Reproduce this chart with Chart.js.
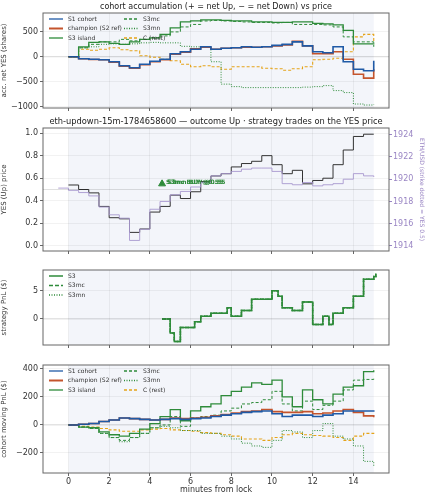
<!DOCTYPE html>
<html><head><meta charset="utf-8">
<script src="https://cdn.jsdelivr.net/npm/chart.js@4"></script>
<style>
body{margin:0;background:#fff;width:425px;height:500px;position:relative;overflow:hidden}
canvas{position:absolute;left:0;top:0}
</style></head><body>
<canvas id="c1" width="425" height="500"></canvas>
<canvas id="c2" width="425" height="500"></canvas>
<canvas id="c3" width="425" height="500"></canvas>
<canvas id="c4" width="425" height="500"></canvas>
<script>
// shared time grid (minutes from lock)
const T = [0,0.5,1,1.5,2,2.5,3,3.5,4,4.5,5,5.5,6,6.5,7,7.5,8,8.5,9,9.5,10,10.5,11,11.5,12,12.5,13,13.5,14,14.5,15];

// panel 1: accumulated net YES shares
const accS1 = [0,-40,-50,-60,-100,-180,-220,-150,-90,-50,60,100,150,200,150,170,180,200,190,200,230,250,300,220,100,80,200,-100,-250,-280,-80];
const accChamp = [0,-40,-55,-60,-110,-190,-230,-160,-100,-60,50,90,160,190,150,170,180,190,190,200,220,240,310,220,60,60,100,-50,-350,-430,-250];
const accS3 = [0,200,290,300,270,250,300,350,380,450,580,700,720,740,740,730,720,720,700,700,690,690,700,700,670,660,640,530,260,260,270];
const accS3mc = [0,180,250,300,300,350,320,350,380,420,500,600,650,720,730,720,710,700,690,690,680,690,650,650,650,640,600,400,300,300,200];
const accS3mn = [0,180,200,250,260,250,260,280,290,280,280,210,200,190,-100,-550,-600,-620,-620,-620,-620,-620,-620,-610,-600,-580,-680,-720,-950,-970,-960];
const accC = [0,150,130,150,180,140,120,20,-10,-50,-80,-150,-200,-180,-200,-250,-200,-200,-200,-230,-240,-270,-240,-200,-60,-50,-30,100,400,450,280];

// panel 2: YES price and ETH/USD
const yesPrice = [0.54,0.5,0.47,0.35,0.25,0.24,0.12,0.15,0.3,0.35,0.45,0.42,0.48,0.57,0.62,0.64,0.7,0.73,0.75,0.8,0.72,0.64,0.67,0.55,0.58,0.6,0.72,0.85,0.97,0.99,0.99];
const ethT = [-0.5,0,0.5,1,1.5,2,2.5,3,3.5,4,4.5,5,5.5,6,6.5,7,7.5,8,8.5,9,9.5,10,10.5,11,11.5,12,12.5,13,13.5,14,14.5,15];
const ethPrice = [1919.2,1919,1918.8,1918.5,1917.5,1916.8,1916.5,1914.5,1915.5,1917.3,1918,1918.6,1918.9,1919.3,1919.7,1920.3,1920.5,1920.7,1920.9,1921,1921,1920.7,1919.6,1919.5,1919.7,1919.4,1919.5,1919.6,1920,1920.5,1920.3,1920.2];
const tradeT = [4.6];
const tradeP = [0.55];
const tradeLabels = ["S3mc BUY @0.55","S3mn BUY @0.55"];

// panel 3: strategy PnL
const pnlT = [4.6,5,5.2,5.5,6,6.2,6.5,7,7.5,7.8,8,8.5,9,9.5,10,10.3,10.5,11,11.5,12,12.5,12.8,13,13.5,14,14.5,15,15.1];
const pnlS3 = [0,-2.5,-4,-1.5,-1.5,-0.5,0.5,1,1,2,0.5,1.5,3.5,3.5,5,4,2,1.5,3,-1,0.5,-1,1,2,4,7,7.5,8];

// panel 4: cohort moving PnL
const mpS1 = [0,5,10,25,35,50,45,40,35,40,45,40,45,50,60,70,80,90,95,100,80,60,70,70,60,70,80,100,100,100,95];
const mpChamp = [0,5,10,25,35,50,45,40,35,40,50,45,50,55,65,75,85,95,100,110,95,90,90,95,80,85,100,110,90,65,55];
const mpS3 = [0,-15,-20,-50,-70,-80,-60,-30,10,60,110,30,100,130,150,210,240,270,300,290,320,200,130,250,180,150,220,270,280,380,390];
const mpS3mc = [0,-15,-25,-60,-90,-110,-90,-60,-20,0,60,-10,50,60,70,100,120,150,160,180,240,150,100,170,110,140,170,250,320,325,330];
const mpS3mn = [0,-15,-25,-60,-90,-120,-90,-60,-20,-10,-20,-40,-40,-60,-60,-80,-100,-130,-150,-160,-110,-40,-50,-90,-40,10,-80,-100,-150,-260,-300];
const mpC = [0,-10,-15,-25,-35,-45,-45,-35,-30,-25,-35,-40,-45,-55,-60,-70,-80,-100,-100,-110,-90,-70,-60,-70,-75,-80,-90,-110,-80,-60,-55];

const xTicks = [0,2,4,6,8,10,12,14];

const BLUE = "#1f5aa6", RED = "#c4542c", GREEN = "#2e8b3a", ORANGE = "#e5a41a", GRAY = "#333";
const FONT = "DejaVu Sans";
Chart.defaults.font.family = FONT;
Chart.defaults.font.size = 8;
Chart.defaults.color = "#333";
Chart.defaults.animation = false;

function pts(xs, ys) { return xs.map((x, i) => ({ x: x, y: ys[i] })); }

function line(label, ys, color, dash, width, xs) {
  return { label: label, data: pts(xs || T, ys), borderColor: color, borderDash: dash || [],
    borderWidth: width || 1.3, pointRadius: 0, stepped: true, fill: false };
}

// shaded band, frame, title, legend
const panelDeco = {
  id: "panelDeco",
  beforeDraw(chart, args, o) {
    const ctx = chart.ctx, a = chart.chartArea, x = chart.scales.x;
    ctx.save();
    ctx.fillStyle = "#f3f5fa";
    ctx.fillRect(x.getPixelForValue(0), a.top, x.getPixelForValue(15) - x.getPixelForValue(0), a.bottom - a.top);
    ctx.restore();
  },
  afterDraw(chart, args, o) {
    const ctx = chart.ctx, a = chart.chartArea;
    ctx.save();
    ctx.strokeStyle = "#666"; ctx.lineWidth = 1;
    ctx.strokeRect(a.left, a.top, a.right - a.left, a.bottom - a.top);
    if (o.zero != null) {
      const y = chart.scales.y.getPixelForValue(o.zero);
      ctx.strokeStyle = "rgba(0,0,0,0.12)"; ctx.beginPath(); ctx.moveTo(a.left, y); ctx.lineTo(a.right, y); ctx.stroke();
    }
    if (o.title) {
      ctx.fillStyle = "#222"; ctx.font = (o.titleSize || 8) + "px " + FONT; ctx.textAlign = "center"; ctx.textBaseline = "bottom";
      ctx.fillText(o.title, (a.left + a.right) / 2, a.top - 2);
    }
    (o.legend || []).forEach((it, i) => {
      const col = Math.floor(i / o.rows), row = i % o.rows;
      const lx = a.left + 6 + col * 75, ly = a.top + 6 + row * 9.5;
      ctx.strokeStyle = it.color; ctx.lineWidth = it.w || 1.3; ctx.setLineDash(it.dash || []);
      ctx.beginPath(); ctx.moveTo(lx, ly); ctx.lineTo(lx + 14, ly); ctx.stroke();
      ctx.setLineDash([]);
      ctx.fillStyle = "#333"; ctx.font = "6px " + FONT; ctx.textAlign = "left"; ctx.textBaseline = "middle";
      ctx.fillText(it.label, lx + 19, ly);
    });
    if (o.tradeLabels) {
      const ds = chart.getDatasetMeta(o.tradeIndex).data[0];
      ctx.fillStyle = GREEN; ctx.font = "bold 6px " + FONT; ctx.textAlign = "left"; ctx.textBaseline = "middle";
      o.tradeLabels.forEach((t, i) => ctx.fillText(t, ds.x + 4 + i * 1.5, ds.y - 1));
    }
    ctx.restore();
  }
};

function xScale(showLabels) {
  return { type: "linear", min: -1.25, max: 15.75,
    afterBuildTicks: s => { s.ticks = xTicks.map(v => ({ value: v })); },
    afterFit: s => { s.height = showLabels ? 22 : 4; },
    grid: { color: "rgba(0,0,0,0.05)", tickLength: 3, tickColor: "#666" },
    border: { display: false },
    ticks: { display: showLabels, font: { size: 8 }, padding: 1 },
    title: { display: showLabels, text: "minutes from lock", font: { size: 8 }, padding: 0 } };
}
function yScale(min, max, ticks, title, extra) {
  return Object.assign({ position: "left", min: min, max: max,
    afterBuildTicks: s => { s.ticks = ticks.map(v => ({ value: v })); },
    afterFit: s => { s.width = 43; },
    grid: { color: "rgba(0,0,0,0.05)", tickLength: 3, tickColor: "#666" },
    border: { display: false },
    ticks: { font: { size: 8 }, padding: 2, callback: v => String(v).replace("-", "\u2212") },
    title: { display: true, text: title, font: { size: 7 }, padding: 0 } }, extra || {});
}

function panel(id, datasets, scales, plotTop, plotBottom, xLabels, deco, rightPad) {
  return new Chart(document.getElementById(id), {
    type: "line",
    data: { datasets: datasets },
    options: { responsive: false, parsing: true,
      layout: { padding: { top: plotTop, left: 0, right: rightPad, bottom: 500 - plotBottom - (xLabels ? 22 : 4) } },
      scales: scales,
      plugins: { legend: { display: false }, tooltip: { enabled: false }, panelDeco: deco } },
    plugins: [panelDeco]
  });
}

const legend6 = [
  { label: "S1 cohort", color: BLUE },
  { label: "champion (S2 ref)", color: RED, w: 2 },
  { label: "S3 island", color: GREEN },
  { label: "S3mc", color: GREEN, dash: [3, 2] },
  { label: "S3mn", color: GREEN, dash: [1, 1.5] },
  { label: "C (rest)", color: ORANGE, dash: [3, 2] }
];

panel("c1", [
  line("S1 cohort", accS1, BLUE, null, 1.6),
  line("champion (S2 ref)", accChamp, RED, null, 1.6),
  line("S3 island", accS3, GREEN),
  line("S3mc", accS3mc, GREEN, [3, 2], 1),
  line("S3mn", accS3mn, GREEN, [1, 1.5], 1),
  line("C (rest)", accC, ORANGE, [3, 2], 1.1)
], { x: xScale(false), y: yScale(-1030, 880, [-1000, -500, 0, 500], "acc. net YES (shares)") },
13, 108, false, { title: "cohort accumulation (+ = net Up, \u2212 = net Down) vs price", legend: legend6, rows: 3, zero: 0 }, 36);

panel("c2", [
  { label: "ETH", data: pts(ethT, ethPrice), yAxisID: "y2", borderColor: "#a898cf", borderWidth: 0.9, pointRadius: 0, stepped: true },
  { label: "YES", data: pts(T, yesPrice), yAxisID: "y", borderColor: GRAY, borderWidth: 1, pointRadius: 0, stepped: true },
  { label: "trade", type: "scatter", data: pts(tradeT, tradeP), yAxisID: "y", pointStyle: "triangle", pointRadius: 4,
    backgroundColor: GREEN, borderColor: GREEN, showLine: false }
], { x: xScale(false),
  y: yScale(-0.045, 1.045, [0, 0.2, 0.4, 0.6, 0.8, 1.0], "YES (Up) price", { ticks: { font: { size: 8 }, padding: 2, callback: v => Number(v).toFixed(1) } }),
  y2: { position: "right", min: 1913.55, max: 1924.6,
    afterBuildTicks: s => { s.ticks = [1914, 1916, 1918, 1920, 1922, 1924].map(v => ({ value: v })); },
    afterFit: s => { s.width = 36; },
    grid: { drawOnChartArea: false, tickLength: 3, tickColor: "#9a86c4" }, border: { display: false },
    ticks: { color: "#9a86c4", font: { size: 8 }, padding: 1, callback: v => String(v) },
    title: { display: true, text: "ETH/USD (strike dotted = YES 0.5)", color: "#9a86c4", font: { size: 6 }, padding: 0 } }
}, 128, 251, false, { title: "eth-updown-15m-1784658600 \u2014 outcome Up \u00b7 strategy trades on the YES price", titleSize: 8.3,
  zero: 0.5, tradeLabels: tradeLabels, tradeIndex: 2 }, 0);

panel("c3", [
  line("S3", pnlS3, GREEN, null, 1.5, pnlT),
  line("S3mc", pnlS3, GREEN, [4, 2], 1.5, pnlT),
  line("S3mn", pnlS3, GREEN, [1, 1.5], 1.5, pnlT)
], { x: xScale(false), y: yScale(-4.6, 8.65, [0, 5], "strategy PnL ($)") },
270, 345, false, { legend: [
  { label: "S3", color: GREEN, w: 1.5 }, { label: "S3mc", color: GREEN, dash: [4, 2], w: 1.5 }, { label: "S3mn", color: GREEN, dash: [1, 1.5], w: 1.5 }
], rows: 3, zero: 0 }, 36);

panel("c4", [
  line("S1 cohort", mpS1, BLUE, null, 1.6),
  line("champion (S2 ref)", mpChamp, RED, null, 1.6),
  line("S3 island", mpS3, GREEN),
  line("S3mc", mpS3mc, GREEN, [3, 2], 1),
  line("S3mn", mpS3mn, GREEN, [1, 1.5], 1),
  line("C (rest)", mpC, ORANGE, [3, 2], 1.1)
], { x: xScale(true), y: yScale(-343, 428, [-200, 0, 200, 400], "cohort moving PnL ($)") },
365, 473, true, { legend: legend6, rows: 3, zero: 0 }, 36);
</script>
</body></html>
